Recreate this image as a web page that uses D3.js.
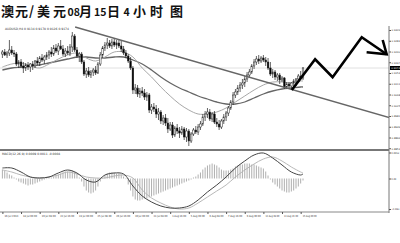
<!DOCTYPE html>
<html><head><meta charset="utf-8">
<script src="https://cdn.jsdelivr.net/npm/d3@7"></script>
<style>
html,body{margin:0;padding:0;background:#fff;}
svg{display:block;}
</style></head>
<body>
<svg id="chart" width="400" height="243"></svg>
<script>
// AUD/USD 4-hour bars, 16 Jul 16:00 - 15 Aug 04:00 (2013)
const opens = [
.9230,.9238,.9226,.9234,.9246,.9234,.9230,.9190,.9198,.9182,
.9174,.9186,.9178,.9190,.9182,.9202,.9194,.9214,.9206,.9218,
.9226,.9238,.9230,.9254,.9242,.9262,.9250,.9230,.9242,.9234,
.9258,.9302,.9246,.9222,.9230,.9198,.9150,.9162,.9146,.9158,
.9166,.9154,.9190,.9226,.9254,.9266,.9274,.9262,.9278,.9266,
.9274,.9262,.9250,.9234,.9222,.9202,.9174,.9086,.9094,.9070,
.9082,.9074,.9058,.9066,.9006,.9018,.9010,.8990,.8998,.8962,
.8974,.8954,.8930,.8946,.8906,.8934,.8922,.8914,.8930,.8898,
.8922,.8882,.8910,.8926,.8918,.8938,.8950,.8978,.8990,.8998,
.8970,.8990,.8958,.8950,.8938,.8962,.8978,.8994,.9014,.9038,
.9066,.9078,.9094,.9106,.9114,.9130,.9146,.9158,.9182,.9198,
.9210,.9202,.9214,.9206,.9198,.9174,.9150,.9158,.9138,.9146,
.9126,.9134,.9098,.9110,.9102,.9114,.9122,.9130,.9142,.9134];
const highs = [
.9246,.9250,.9242,.9286,.9262,.9246,.9238,.9206,.9210,.9198,
.9194,.9198,.9194,.9202,.9206,.9218,.9222,.9230,.9226,.9238,
.9246,.9258,.9266,.9270,.9274,.9286,.9266,.9254,.9262,.9270,
.9318,.9310,.9258,.9238,.9238,.9206,.9174,.9178,.9166,.9174,
.9182,.9198,.9238,.9262,.9278,.9294,.9286,.9290,.9294,.9286,
.9290,.9282,.9262,.9246,.9230,.9218,.9182,.9110,.9106,.9094,
.9098,.9090,.9078,.9074,.9030,.9034,.9026,.9014,.9006,.8986,
.8990,.8974,.8958,.8958,.8942,.8950,.8938,.8942,.8938,.8934,
.8930,.8918,.8934,.8942,.8950,.8962,.8990,.9002,.9014,.9010,
.8998,.9002,.8974,.8966,.8970,.8990,.9002,.9022,.9046,.9078,
.9090,.9106,.9118,.9130,.9142,.9158,.9170,.9190,.9210,.9222,
.9226,.9222,.9226,.9218,.9214,.9198,.9170,.9166,.9154,.9154,
.9142,.9138,.9118,.9118,.9118,.9130,.9134,.9150,.9162,.9178];
const lows = [
.9214,.9222,.9214,.9222,.9226,.9218,.9182,.9174,.9174,.9154,
.9162,.9166,.9158,.9166,.9174,.9186,.9182,.9198,.9190,.9206,
.9210,.9218,.9222,.9234,.9226,.9246,.9222,.9218,.9226,.9222,
.9238,.9238,.9214,.9198,.9190,.9142,.9134,.9138,.9134,.9142,
.9146,.9150,.9182,.9214,.9242,.9250,.9254,.9250,.9258,.9250,
.9254,.9238,.9226,.9214,.9194,.9166,.9070,.9070,.9058,.9054,
.9062,.9046,.9042,.8994,.8990,.8998,.8974,.8966,.8950,.8946,
.8942,.8914,.8922,.8894,.8898,.8910,.8894,.8906,.8886,.8878,
.8862,.8874,.8902,.8910,.8906,.8926,.8942,.8962,.8974,.8962,
.8958,.8950,.8938,.8926,.8930,.8950,.8962,.8982,.9006,.9026,
.9054,.9066,.9078,.9090,.9098,.9118,.9134,.9150,.9170,.9186,
.9190,.9194,.9198,.9182,.9166,.9142,.9134,.9126,.9122,.9110,
.9118,.9090,.9090,.9090,.9086,.9098,.9102,.9118,.9126,.9126];
const closes = [
.9238,.9226,.9234,.9246,.9234,.9230,.9190,.9198,.9182,.9174,
.9186,.9178,.9190,.9182,.9202,.9194,.9214,.9206,.9218,.9226,
.9238,.9230,.9254,.9242,.9262,.9250,.9230,.9242,.9234,.9258,
.9302,.9246,.9222,.9230,.9198,.9150,.9162,.9146,.9158,.9166,
.9154,.9190,.9226,.9254,.9266,.9274,.9262,.9278,.9266,.9274,
.9262,.9250,.9234,.9222,.9202,.9174,.9086,.9094,.9070,.9082,
.9074,.9058,.9066,.9006,.9018,.9010,.8990,.8998,.8962,.8974,
.8954,.8930,.8946,.8906,.8934,.8922,.8914,.8930,.8898,.8922,
.8882,.8910,.8926,.8918,.8938,.8950,.8978,.8990,.8998,.8970,
.8990,.8958,.8950,.8938,.8962,.8978,.8994,.9014,.9038,.9066,
.9078,.9094,.9106,.9114,.9130,.9146,.9158,.9182,.9198,.9210,
.9202,.9214,.9206,.9198,.9174,.9150,.9158,.9138,.9146,.9126,
.9134,.9098,.9110,.9102,.9114,.9122,.9130,.9142,.9134,.9174];

// moving averages, sampled every 4 bars
const maIndex = [0,4,8,12,16,20,24,28,32,36,40,44,48,52,56,60,64,68,72,76,80,84,88,92,96,100,104,108,112,116,120,124,128,129];
const maFast = [.9178,.9190,.9194,.9182,.9174,.9190,.9210,.9226,.9234,.9214,.9202,.9218,.9238,.9238,.9218,.9174,
  .9138,.9098,.9062,.9030,.9006,.8990,.8990,.8998,.9014,.9038,.9062,.9086,.9106,.9118,.9118,.9114,.9122,.9122];
const maSlow = [.9166,.9174,.9178,.9182,.9186,.9194,.9202,.9210,.9218,.9218,.9214,.9214,.9218,.9218,.9206,.9190,
  .9166,.9138,.9114,.9094,.9078,.9062,.9050,.9038,.9030,.9030,.9038,.9054,.9070,.9082,.9090,.9094,.9098,.9098];

// MACD(12,26,9): histogram per bar, main and signal lines sampled every 4 bars
const macdHist = [
.0018,.0016,.0012,.0008,.0006,.0002,-.0002,-.0006,-.0008,-.0010,
-.0012,-.0014,-.0012,-.0012,-.0010,-.0008,-.0006,-.0004,-.0002,.0000,
.0002,.0002,.0004,.0006,.0008,.0010,.0012,.0014,.0014,.0014,
.0016,.0014,.0010,.0002,-.0006,-.0016,-.0024,-.0028,-.0030,-.0028,
-.0024,-.0016,-.0006,.0002,.0006,.0010,.0012,.0012,.0012,.0010,
.0010,.0008,.0004,.0000,-.0012,-.0024,-.0036,-.0042,-.0044,-.0044,
-.0042,-.0040,-.0040,-.0038,-.0036,-.0034,-.0032,-.0030,-.0028,-.0026,
-.0024,-.0022,-.0020,-.0018,-.0016,-.0014,-.0012,-.0010,-.0008,-.0006,
-.0004,-.0002,.0002,.0004,.0008,.0012,.0018,.0022,.0026,.0028,
.0030,.0028,.0026,.0022,.0018,.0016,.0016,.0016,.0018,.0020,
.0024,.0026,.0028,.0028,.0030,.0030,.0030,.0028,.0028,.0026,
.0024,.0022,.0020,.0014,.0006,-.0002,-.0008,-.0012,-.0016,-.0020,
-.0024,-.0026,-.0028,-.0028,-.0026,-.0024,-.0020,-.0016,-.0010,-.0004];
const macdMain = [.0021,.0021,.0013,.0003,.0001,.0003,.0011,.0017,.0011,-.0003,-.0007,.0007,.0011,.0009,-.0015,-.0035,
  -.0047,-.0055,-.0059,-.0059,-.0055,-.0043,-.0027,-.0013,.0003,.0021,.0035,.0047,.0051,.0041,.0027,.0013,.0007,.0009];
const macdSignal = [.0017,.0013,.0007,.0003,.0001,.0003,.0007,.0013,.0009,.0003,.0001,.0001,.0005,.0007,.0001,-.0023,
  -.0039,-.0049,-.0057,-.0061,-.0059,-.0049,-.0037,-.0025,-.0013,.0003,.0017,.0029,.0039,.0043,.0035,.0023,.0013,.0011];

// axis labels
const priceTicks = [.9326,.9283,.9240,.9197,.9154,.9111,.9068,.9025,.8982,.8939,.8896,.8853];
const macdTicks = [.0052, 0, -.0061];
const timeIndex = [0,8,16,24,32,40,48,56,64,72,80,88,96,104,112,120,128];
const timeLabels = ["16 Jul 2013","18 Jul 00:00","19 Jul 08:00","22 Jul 16:00","24 Jul 00:00","25 Jul 08:00",
  "26 Jul 16:00","30 Jul 00:00","31 Jul 08:00","1 Aug 16:00","5 Aug 00:00","6 Aug 08:00","7 Aug 16:00",
  "9 Aug 00:00","12 Aug 08:00","13 Aug 16:00","15 Aug 00:00"];

// hand-drawn analysis: falling resistance and the projected path (bar index, price)
const resistance = [[31.2, .9338], [166, .8976]];
const projection = [[124.2, .9086], [134.2, .9209], [141.7, .9137], [154.2, .9297], [164.9, .9229]];
const projectionHead = [[156.3, .9237], [164.9, .9229], [163.2, .9286]];

// title pieces: text, left edge, size
const titleParts = [["澳",1,13],["元",15,13],["/",29,13],["美",37,13],["元",53,13],["08",67.5,10.5],["月",79,13],
  ["15",94,10.5],["日",107,13],["4",123.5,10.5],["小",133,13],["时",150,13],["图",170,13]];

const svg = d3.select("#chart");
const axisX = 389;
const x = d3.scaleLinear().domain([0, 129]).range([2.4, 303]);
const y = d3.scaleLinear().domain([.9326, .8886]).range([30, 140]);
const ym = d3.scaleLinear().domain([.0052, -.0061]).range([152.5, 209]);
const tinyFont = "'DejaVu Sans', sans-serif";

// title
const title = svg.append("text").attr("y", 16).attr("font-family", "'Noto Sans CJK SC'")
  .attr("font-weight", 700).attr("fill", "#111");
titleParts.forEach(([t, px, fs]) => title.append("tspan").attr("x", px).attr("font-size", fs).text(t));

svg.append("defs").append("clipPath").attr("id", "mainClip")
  .append("rect").attr("x", 0).attr("y", 24).attr("width", axisX).attr("height", 125);

const main = svg.append("g").attr("clip-path", "url(#mainClip)");
const n = closes.length;

// last price line
main.append("line").attr("x1", 0).attr("x2", axisX)
  .attr("y1", y(closes[n - 1])).attr("y2", y(closes[n - 1]))
  .attr("stroke", "#d8d8d8").attr("stroke-width", 0.8);

// moving averages
const maLine = vals => d3.line().x((d, i) => x(maIndex[i])).y(d => y(d)).curve(d3.curveCatmullRom)(vals);
main.append("path").attr("d", maLine(maSlow)).attr("fill", "none").attr("stroke", "#666").attr("stroke-width", 1.3);
main.append("path").attr("d", maLine(maFast)).attr("fill", "none").attr("stroke", "#a8a8a8").attr("stroke-width", 1);

// candles
const bars = d3.range(n);
main.append("g").selectAll("line").data(bars).join("line")
  .attr("x1", i => x(i)).attr("x2", i => x(i))
  .attr("y1", i => y(highs[i])).attr("y2", i => y(lows[i]))
  .attr("stroke", "#222").attr("stroke-width", 0.7);
main.append("g").selectAll("rect").data(bars).join("rect")
  .attr("x", i => x(i) - 0.8).attr("width", 1.6)
  .attr("y", i => y(Math.max(opens[i], closes[i])))
  .attr("height", i => Math.max(0.7, Math.abs(y(opens[i]) - y(closes[i]))))
  .attr("fill", i => closes[i] >= opens[i] ? "#fff" : "#000")
  .attr("stroke", "#222").attr("stroke-width", 0.5);

// resistance line
main.append("line")
  .attr("x1", x(resistance[0][0])).attr("y1", y(resistance[0][1]))
  .attr("x2", x(resistance[1][0])).attr("y2", y(resistance[1][1]))
  .attr("stroke", "#666").attr("stroke-width", 1.4);

// projected path with arrow head
const pl = d3.line().x(d => x(d[0])).y(d => y(d[1]));
svg.append("path").attr("d", pl(projection)).attr("fill", "none")
  .attr("stroke", "#000").attr("stroke-width", 2.6).attr("stroke-linejoin", "miter");
svg.append("path").attr("d", pl(projectionHead)).attr("fill", "none")
  .attr("stroke", "#000").attr("stroke-width", 2.6).attr("stroke-linejoin", "miter");

// header text
const last = n - 1;
svg.append("text").attr("x", 5).attr("y", 30).attr("font-family", tinyFont).attr("font-size", 3).attr("fill", "#333")
  .text(`AUDUSD,H4  ${opens[last].toFixed(4)} ${highs[last].toFixed(4)} ${lows[last].toFixed(4)} ${closes[last].toFixed(4)}`);

// price axis
const pAxis = svg.append("g").attr("transform", `translate(${axisX},0)`)
  .call(d3.axisRight(y).tickValues(priceTicks).tickSize(2).tickSizeOuter(0).tickFormat(d3.format(".4f")));
pAxis.select(".domain").remove();
pAxis.selectAll("line").attr("stroke", "#555");
pAxis.selectAll("text").attr("font-size", 2.5).attr("font-family", tinyFont).attr("fill", "#333").attr("x", 2.5);

// last price tag
const lp = y(closes[last]);
svg.append("rect").attr("x", axisX + 1).attr("y", lp - 2).attr("width", 10.5).attr("height", 4).attr("fill", "#000");
svg.append("text").attr("x", axisX + 2.3).attr("y", lp + 0.9).attr("font-family", tinyFont).attr("font-size", 2.5)
  .attr("fill", "#fff").text(closes[last].toFixed(4));

// frame lines
svg.append("line").attr("x1", axisX).attr("x2", axisX).attr("y1", 26).attr("y2", 213).attr("stroke", "#777").attr("stroke-width", 1);
svg.append("line").attr("x1", 0).attr("x2", axisX).attr("y1", 150).attr("y2", 150).attr("stroke", "#777").attr("stroke-width", 2);
svg.append("line").attr("x1", 0).attr("x2", axisX).attr("y1", 212).attr("y2", 212).attr("stroke", "#888").attr("stroke-width", 1);

// MACD panel
const macdG = svg.append("g");
macdG.selectAll("line").data(bars).join("line")
  .attr("x1", i => x(i)).attr("x2", i => x(i))
  .attr("y1", ym(0)).attr("y2", i => ym(macdHist[i]) + (macdHist[i] === 0 ? 0.6 : 0))
  .attr("stroke", "#9a9a9a").attr("stroke-width", 0.8);
const mLine = vals => d3.line().x((d, i) => x(maIndex[i])).y(d => ym(d)).curve(d3.curveCatmullRom)(vals);
macdG.append("path").attr("d", mLine(macdSignal)).attr("fill", "none").attr("stroke", "#b0b0b0").attr("stroke-width", 0.9);
macdG.append("path").attr("d", mLine(macdMain)).attr("fill", "none").attr("stroke", "#444").attr("stroke-width", 1);

svg.append("text").attr("x", 2).attr("y", 154.5).attr("font-family", tinyFont).attr("font-size", 3).attr("fill", "#333")
  .text(`MACD(12,26,9) ${macdMain[macdMain.length - 1].toFixed(4)} ${macdSignal[macdSignal.length - 1].toFixed(4)} ${macdHist[last].toFixed(4)}`);

const mAxis = svg.append("g").attr("transform", `translate(${axisX},0)`)
  .call(d3.axisRight(ym).tickValues(macdTicks).tickSize(2).tickSizeOuter(0)
    .tickFormat(d => d === 0 ? "0.00" : d3.format(".4f")(d)));
mAxis.select(".domain").remove();
mAxis.selectAll("line").attr("stroke", "#555");
mAxis.selectAll("text").attr("font-size", 2.3).attr("font-family", tinyFont).attr("fill", "#333").attr("x", 2.2)
  .filter(d => d < 0).attr("textLength", 8.4).attr("lengthAdjust", "spacingAndGlyphs");

// time axis
const tAxis = svg.append("g").attr("transform", "translate(0,212)")
  .call(d3.axisBottom(x).tickValues(timeIndex).tickSize(2).tickSizeOuter(0).tickFormat((d, i) => timeLabels[i]));
tAxis.select(".domain").remove();
tAxis.selectAll("line").attr("stroke", "#555");
tAxis.selectAll("text").attr("font-size", 2.6).attr("font-family", tinyFont).attr("fill", "#333")
  .attr("text-anchor", "start").attr("x", 1.5).attr("y", 3)
  .attr("textLength", 14).attr("lengthAdjust", "spacingAndGlyphs");
</script>
</body></html>
